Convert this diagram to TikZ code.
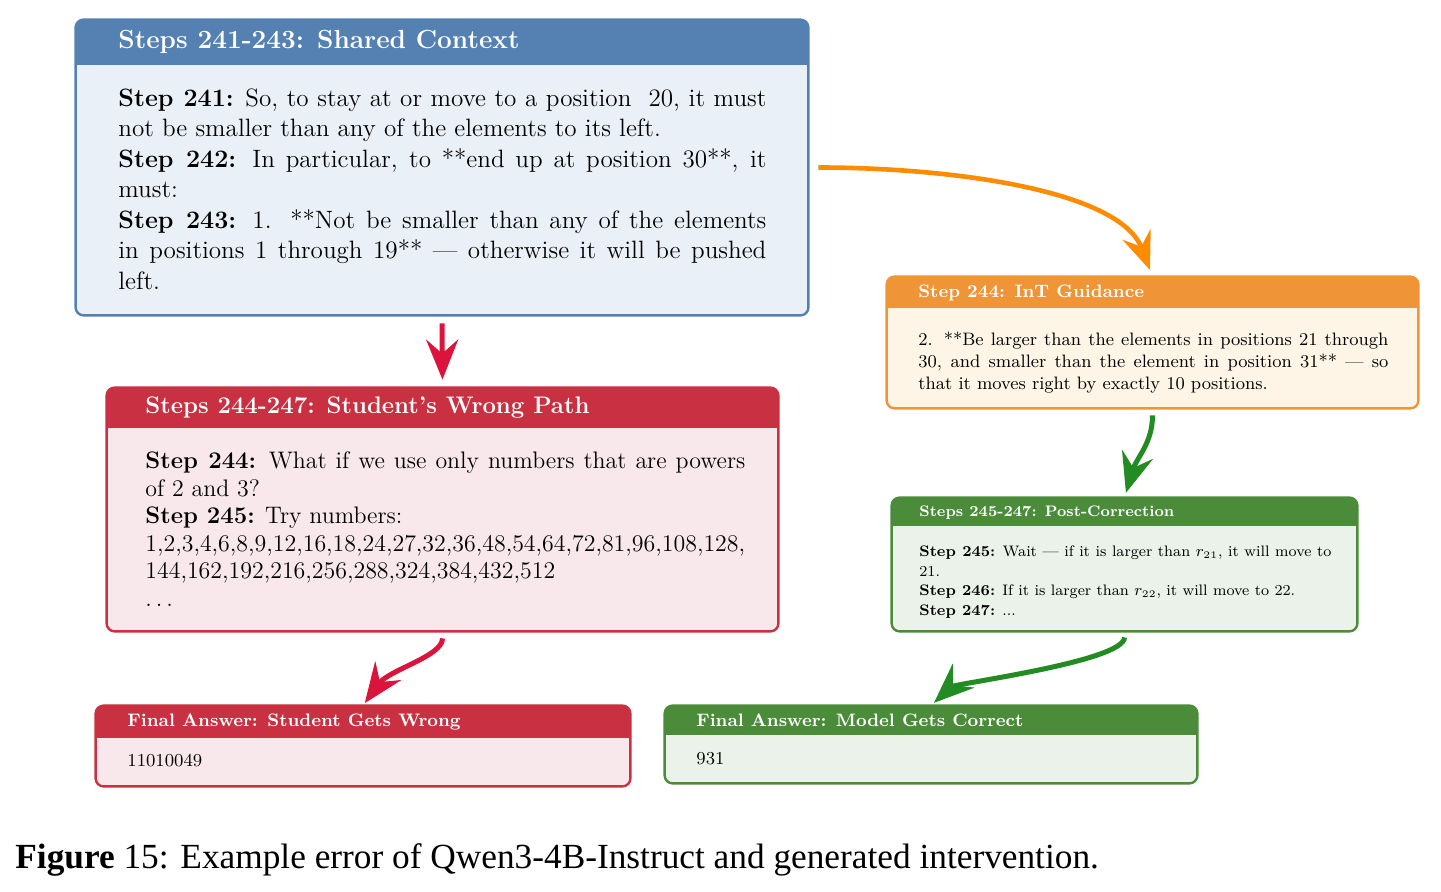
\documentclass[tikz,border=0pt]{standalone}
\usepackage{fontspec}
\newfontfamily\capfont{Liberation Serif}
\usetikzlibrary{arrows.meta,calc}
\definecolor{bluehead}{RGB}{84,129,178}
\definecolor{bluebody}{RGB}{234,240,247}
\definecolor{redhead}{RGB}{201,49,66}
\definecolor{redbody}{RGB}{248,231,235}
\definecolor{orangehead}{RGB}{240,148,56}
\definecolor{orangebody}{RGB}{254,245,230}
\definecolor{greenhead}{RGB}{74,140,58}
\definecolor{greenbody}{RGB}{234,242,234}
\definecolor{arrorange}{RGB}{255,140,0}
\definecolor{arrred}{RGB}{220,20,60}
\definecolor{arrgreen}{RGB}{34,139,34}
\tikzset{
  boxbase/.style={inner sep=0pt, rounded corners=4pt},
  titletext/.style={anchor=base west, inner sep=0pt, text=white},
  bodytext/.style={anchor=north west, inner sep=0pt, align=justify},
  arr/.style={line width=2.5pt, -{Stealth[length=20pt,width=16pt,inset=7pt]}},
}
\newcommand{\stepframe}[6]{%
  \node[boxbase, fill=#5body, minimum width=#3, minimum height=#4] (#1) at (#2) {};
  \begin{scope}
    \clip ([yshift=-#6]#1.north west) rectangle ([yshift=3pt]#1.north east);
    \fill[#5head, rounded corners=4pt] (#1.north west) rectangle (#1.south east);
  \end{scope}
  \draw[#5head, line width=1.2pt, rounded corners=4pt] (#1.north west) rectangle (#1.south east);
}
\begin{document}
\begin{tikzpicture}[x=0.5pt,y=-0.5pt]
\useasboundingbox (0,0) rectangle (1441,892);
\fill[white] (0,0) rectangle (1441,892);

% boxes
\stepframe{b1}{442,167.5}{366pt}{147.5pt}{blue}{22.5pt}
\stepframe{b2}{442.5,509.5}{335.5pt}{121.5pt}{red}{20pt}
\stepframe{b3}{1152.5,342.5}{265.5pt}{65.5pt}{orange}{15.5pt}
\stepframe{b4}{1124.5,564.5}{232.5pt}{66.5pt}{green}{14pt}
\stepframe{b5}{363,746}{267pt}{40pt}{red}{16pt}
\stepframe{b6}{931,744.5}{266pt}{38.5pt}{green}{14.5pt}

% titles
\node[titletext, font=\bfseries\fontsize{13.1}{15}\selectfont] (t1) at (118,49) {Steps 241-243: Shared Context};
\node[titletext, font=\bfseries\fontsize{11.95}{14}\selectfont] (t2) at (145,414) {Steps 244-247: Student’s Wrong Path};
\node[titletext, font=\bfseries\fontsize{9.0}{11}\selectfont] (t3) at (918,298) {Step 244: InT Guidance};
\node[titletext, font=\bfseries\fontsize{7.6}{9}\selectfont] (t4) at (919,516.5) {Steps 245-247: Post-Correction};
\node[titletext, font=\bfseries\fontsize{9.03}{11}\selectfont] (t5) at (127,726.5) {Final Answer: Student Gets Wrong};
\node[titletext, font=\bfseries\fontsize{9.0}{11}\selectfont] (t6) at (696,726.5) {Final Answer: Model Gets Correct};

% bodies
\node[bodytext, text width=324pt, font=\fontsize{12.55}{15.25}\selectfont] (x1) at (118,88)
{\textbf{Step 241:} So, to stay at or move to a position\ \ 20, it must\linebreak
not be smaller than any of the elements to its left.\newline
\textbf{Step 242:} In particular, to **end up at position 30**, it\linebreak
must:\newline
\textbf{Step 243:} 1. **Not be smaller than any of the elements\linebreak
in positions 1 through 19** \textemdash{} otherwise it will be pushed\linebreak
left.};

\node[bodytext, text width=300pt, font=\fontsize{11.95}{13.75}\selectfont] (x2) at (145,451.5)
{\textbf{Step 244:} What if we use only numbers that are powers\linebreak
of 2 and 3?\newline
\textbf{Step 245:} Try numbers:\newline
1,2,3,4,6,8,9,12,16,18,24,27,32,36,48,54,64,72,81,96,108,128,\newline
144,162,192,216,256,288,324,384,432,512\newline
$\ldots$};

\node[bodytext, text width=235pt, font=\fontsize{9}{11}\selectfont] (x3) at (918,331.5)
{2. **Be larger than the elements in positions 21 through\linebreak
30, and smaller than the element in position 31** \textemdash{} so\linebreak
that it moves right by exactly 10 positions.};

\node[bodytext, text width=206pt, font=\fontsize{7.6}{9.75}\selectfont] (x4) at (919,545.5)
{\textbf{Step 245:} Wait \textemdash{} if it is larger than $r_{21}$, it will move to\linebreak
21.\newline
\textbf{Step 246:} If it is larger than $r_{22}$, it will move to 22.\newline
\textbf{Step 247:} ...};

\node[anchor=base west, inner sep=0pt, font=\fontsize{9.1}{11}\selectfont] (x5) at (127,767) {11010049};
\node[anchor=base west, inner sep=0pt, font=\fontsize{9.1}{11}\selectfont] (x6) at (696,764) {931};

% arrows
\draw[arr, arrorange, line width=2.3pt, -{Stealth[length=19pt,width=15pt,inset=6.5pt]}, shorten <=5pt, shorten >=3.5pt]
  (b1.east) .. controls +(140,0) and +(-33,-87) .. (b3.north);
\draw[arr, arrred, shorten <=4pt, shorten >=4pt] (b1.south) -- (b2.north);
\draw[arr, arrgreen, shorten <=3.5pt, shorten >=2.5pt]
  (b3.south) .. controls +(0,35) and +(12,-40) .. (b4.north);
\draw[arr, arrred, shorten <=3.5pt, shorten >=1.5pt]
  (b2.south) .. controls +(0,25) and +(26,-36) .. (b5.north);
\draw[arr, arrgreen, shorten <=3pt, shorten >=2pt]
  (b4.south) .. controls +(0,30) and +(24,-22) .. (b6.north);

% caption
\node[anchor=base west, inner sep=0pt, font=\capfont\fontsize{17.65}{20}\selectfont] (cap) at (15,868)
{\textbf{Figure} 15: Example error of Qwen3-4B-Instruct and generated intervention.};
\end{tikzpicture}
\end{document}
